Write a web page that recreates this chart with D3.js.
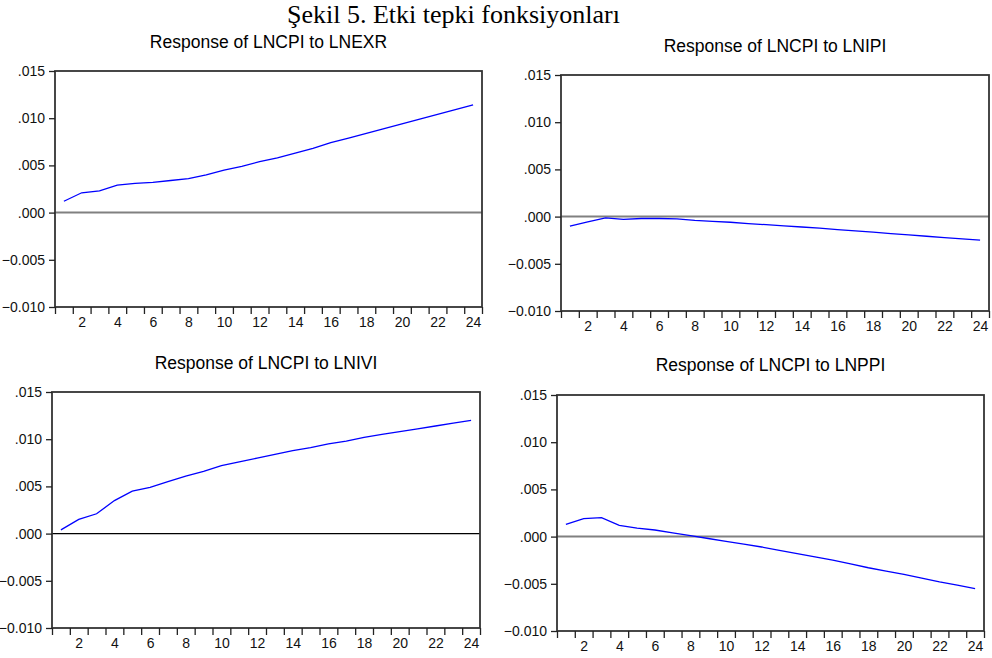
<!DOCTYPE html>
<html><head><meta charset="utf-8">
<script src="https://cdn.jsdelivr.net/npm/d3@7"></script>
<style>
html,body{margin:0;padding:0;background:#fff;}
svg{display:block;}
</style></head>
<body>
<svg id="chart" width="992" height="658"></svg>
<script>
const mainTitle = "Şekil 5. Etki tepki fonksiyonları";
const periods = d3.range(1, 25);
const panelTitles = ["Response of LNCPI to LNEXR", "Response of LNCPI to LNIPI", "Response of LNCPI to LNIVI", "Response of LNCPI to LNPPI"];
const yTicks = [-0.010, -0.005, 0.000, 0.005, 0.010, 0.015];
const xTickLabels = [2, 4, 6, 8, 10, 12, 14, 16, 18, 20, 22, 24];
const yDomain = [-0.010, 0.015];

const lnexr = [0.0012, 0.0021, 0.0023, 0.0029, 0.0031, 0.0032, 0.0034, 0.0036, 0.0040, 0.0045, 0.0049, 0.0054, 0.0058, 0.0063, 0.0068, 0.0074, 0.0079, 0.0084, 0.0089, 0.0094, 0.0099, 0.0104, 0.0109, 0.0114];
const lnipi = [-0.0010, -0.00056, -0.00014, -0.0003, -0.0002, -0.0002, -0.00025, -0.0004, -0.0005, -0.0006, -0.00074, -0.00086, -0.00098, -0.0011, -0.00123, -0.00137, -0.00151, -0.00165, -0.0018, -0.00194, -0.00208, -0.00222, -0.00236, -0.0025];
const lnivi = [0.0004, 0.0015, 0.0021, 0.0035, 0.0045, 0.0049, 0.0055, 0.0061, 0.0066, 0.0072, 0.0076, 0.0080, 0.0084, 0.0088, 0.0091, 0.0095, 0.0098, 0.0102, 0.0105, 0.0108, 0.0111, 0.0114, 0.0117, 0.0120];
const lnppi = [0.0013, 0.0019, 0.0020, 0.0012, 0.0009, 0.0007, 0.0004, 0.0001, -0.0002, -0.0005, -0.0008, -0.0011, -0.00145, -0.0018, -0.00215, -0.0025, -0.0029, -0.0033, -0.00365, -0.0040, -0.0044, -0.0048, -0.00515, -0.0055];
const seriesList = [lnexr, lnipi, lnivi, lnppi];

// layout (plot frames)
const frames = [
  {l: 55, r: 482, t: 71, b: 307, tb: 47.5, zc: "#808080", zw: 2},
  {l: 561, r: 989, t: 75, b: 311, tb: 51.5, zc: "#808080", zw: 2},
  {l: 52, r: 480, t: 392, b: 628, tb: 369, zc: "#000", zw: 1.2},
  {l: 557, r: 984, t: 395, b: 631, tb: 371, zc: "#808080", zw: 2}
];

const svg = d3.select("#chart");
svg.append("text").attr("x", 453.5).attr("y", 23).attr("text-anchor", "middle")
  .attr("font-family", "'Liberation Serif','Times New Roman',serif").attr("font-size", 26)
  .attr("fill", "#000").text(mainTitle);

const fmt = v => {
  const s = d3.format(".3f")(Math.abs(v) < 1e-12 ? 0 : v);
  return s.replace(/^(-?)0\./, "$1.");
};

frames.forEach((f, i) => {
  const x = d3.scaleLinear().domain([0.5, 24.5]).range([f.l, f.r]);
  const y = d3.scaleLinear().domain(yDomain).range([f.b, f.t]);
  const g = svg.append("g");

  g.append("text").attr("x", (f.l + f.r) / 2).attr("y", f.tb).attr("text-anchor", "middle")
    .attr("font-family", "'Liberation Sans',Arial,sans-serif").attr("font-size", 17.5)
    .attr("fill", "#000").text(panelTitles[i]);

  // zero line
  g.append("line").attr("x1", f.l).attr("x2", f.r).attr("y1", y(0)).attr("y2", y(0))
    .attr("stroke", f.zc).attr("stroke-width", f.zw);

  // series
  const line = d3.line().x((d, j) => x(periods[j])).y(d => y(d));
  g.append("path").datum(seriesList[i]).attr("d", line).attr("fill", "none")
    .attr("stroke", "#0000ff").attr("stroke-width", 1.3);

  // frame
  g.append("rect").attr("x", f.l).attr("y", f.t).attr("width", f.r - f.l).attr("height", f.b - f.t)
    .attr("fill", "none").attr("stroke", "#333").attr("stroke-width", 1.8);

  // y axis
  const ya = g.append("g").attr("transform", `translate(${f.l},0)`)
    .call(d3.axisLeft(y).tickValues(yTicks).tickFormat(fmt).tickSize(6).tickPadding(4).tickSizeOuter(0));
  ya.select(".domain").remove();
  ya.selectAll("line").attr("stroke", "#222").attr("stroke-width", 1.3);
  ya.selectAll("text").attr("font-family", "'Liberation Sans',Arial,sans-serif").attr("font-size", 14).attr("fill", "#111");

  // x axis ticks at interval boundaries
  const xa = g.append("g").attr("transform", `translate(0,${f.b})`)
    .call(d3.axisBottom(x).tickValues(d3.range(0.5, 25, 1)).tickFormat("").tickSize(7).tickSizeOuter(0));
  xa.select(".domain").remove();
  xa.selectAll("line").attr("stroke", "#222").attr("stroke-width", 1.3);
  // x labels at period centers
  const xl = g.append("g").attr("transform", `translate(0,${f.b})`)
    .call(d3.axisBottom(x).tickValues(xTickLabels).tickFormat(d3.format("d")).tickSize(0).tickPadding(10));
  xl.select(".domain").remove();
  xl.selectAll("text").attr("font-family", "'Liberation Sans',Arial,sans-serif").attr("font-size", 14).attr("fill", "#111");
});
</script>
</body></html>
